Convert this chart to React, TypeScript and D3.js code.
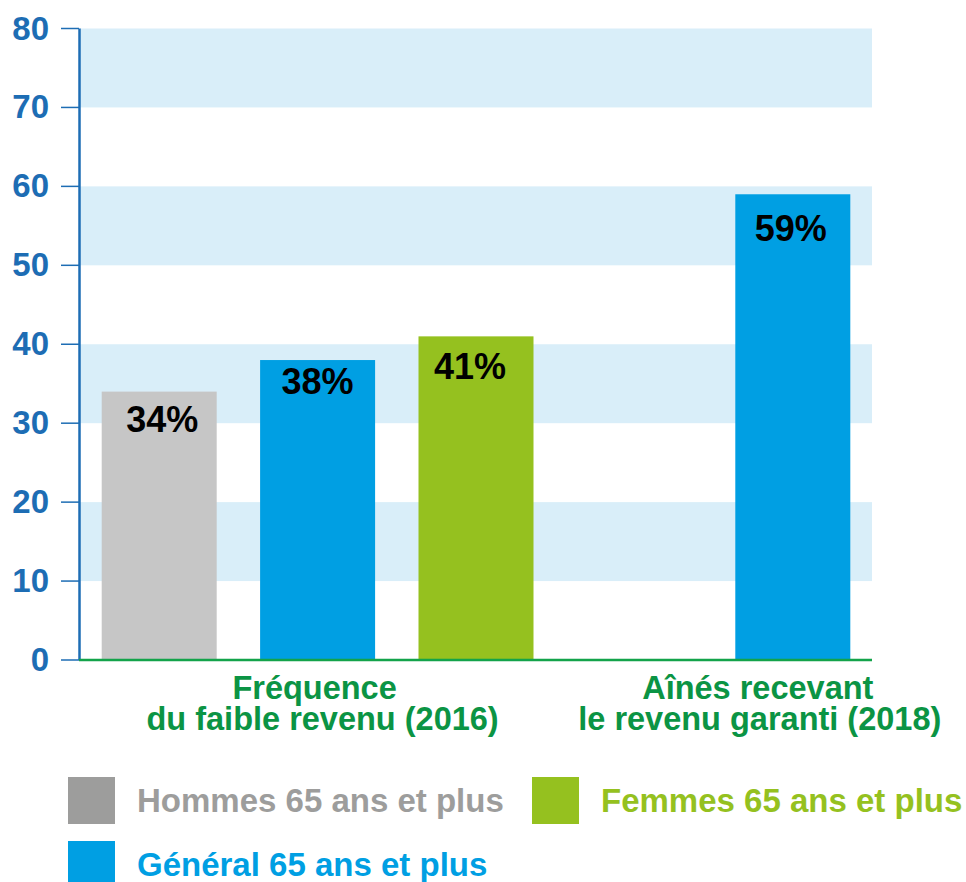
import * as d3 from "d3";

// data
const categories = [
  ["Fréquence", "du faible revenu (2016)"],
  ["Aînés recevant", "le revenu garanti (2018)"],
];
const seriesNames = ["Hommes 65 ans et plus", "Général 65 ans et plus", "Femmes 65 ans et plus"];
const seriesKeys = ["hommes", "general", "femmes"];
const hommesValues = [34, null];
const generalValues = [38, 59];
const femmesValues = [41, null];
// slots along the x axis (group 2 keeps an empty slot before its bar)
const slots = ["0-hommes", "0-general", "0-femmes", "1-vide", "1-general"];
const yTicks = [0, 10, 20, 30, 40, 50, 60, 70, 80];

const colors: Record<string, string> = {
  hommes: "#c6c6c6",
  general: "#009fe3",
  femmes: "#95c11f",
};
const legendSwatch: Record<string, string> = {
  hommes: "#9d9d9c",
  general: "#009fe3",
  femmes: "#95c11f",
};
const legendText: Record<string, string> = {
  hommes: "#9d9d9c",
  general: "#009fe3",
  femmes: "#95c11f",
};

const W = 966;
const H = 882;
const left = 80;
const right = 872;
const top = 28.5;
const bottom = 660;
const font = "'Liberation Sans', Arial, Helvetica, sans-serif";
const axisBlue = "#1d6db4";

// the value labels were hand placed in the original, small nudges
const labelNudge: Record<string, [number, number]> = {
  "0-hommes": [3, 40],
  "0-general": [0, 34],
  "0-femmes": [-6, 43],
  "1-general": [-2, 47],
};

export default function App() {
  const x = d3.scaleBand<string>().domain(slots).range([left, right]).paddingInner(0.274).paddingOuter(0.137);
  const y = d3.scaleLinear().domain([0, 80]).range([bottom, top]);

  const valuesByKey: Record<string, (number | null)[]> = {
    hommes: hommesValues,
    general: generalValues,
    femmes: femmesValues,
  };

  const bars: { key: string; slot: string; value: number }[] = [];
  categories.forEach((_, g) => {
    seriesKeys.forEach((k) => {
      const v = valuesByKey[k][g];
      if (v != null) bars.push({ key: k, slot: `${g}-${k}`, value: v });
    });
  });

  const bands = yTicks.filter((t) => t % 20 === 10);

  // label anchors per group
  const groupCenter = (g: number) => {
    const s = slots.filter((d) => d.startsWith(`${g}-`) && d !== `${g}-vide`);
    const x0 = x(s[0])!;
    const x1 = x(s[s.length - 1])! + x.bandwidth();
    return (x0 + x1) / 2;
  };
  const lineShift = [
    [-3, 5],
    [-35, -33],
  ];

  return (
    <svg width={W} height={H} style={{ position: "absolute", left: 0, top: 0, background: "#fff" }} fontFamily={font}>
      {bands.map((b) => (
        <rect key={b} x={left} y={y(b + 10)} width={right - left} height={y(b) - y(b + 10)} fill="#d9eef9" />
      ))}

      {bars.map((b) => {
        const [dx, dy] = labelNudge[b.slot] || [0, 40];
        return (
          <g key={b.slot}>
            <rect x={x(b.slot)} y={y(b.value)} width={x.bandwidth()} height={y(0) - y(b.value)} fill={colors[b.key]} />
            <text
              x={x(b.slot)! + x.bandwidth() / 2 + dx}
              y={y(b.value) + dy}
              textAnchor="middle"
              fontSize={36}
              fontWeight="bold"
              fill="#000"
            >
              {b.value}%
            </text>
          </g>
        );
      })}

      {/* y axis */}
      <line x1={79.5} x2={79.5} y1={top} y2={bottom} stroke={axisBlue} strokeWidth={2.5} />
      {yTicks.map((t) => (
        <g key={t}>
          <line x1={61} x2={79} y1={y(t)} y2={y(t)} stroke={axisBlue} strokeWidth={1.5} />
          <text x={49} y={y(t) + 11} textAnchor="end" fontSize={33} fontWeight="bold" fill={axisBlue}>
            {t}
          </text>
        </g>
      ))}

      {/* baseline */}
      <line x1={79} x2={right} y1={bottom} y2={bottom} stroke="#13a34a" strokeWidth={2.5} />

      {/* category labels */}
      {categories.map((lines, g) => {
        const cx = g === 1 ? x("1-general")! + x.bandwidth() / 2 : groupCenter(g);
        return (
          <text key={g} fontSize={32.5} fontWeight="bold" fill="#0b9444" textAnchor="middle">
            {lines.map((l, i) => (
              <tspan key={i} x={cx + lineShift[g][i]} y={699 + i * 30.5}>
                {l}
              </tspan>
            ))}
          </text>
        );
      })}

      {/* legend */}
      {[
        { k: "hommes", lx: 68, ly: 777 },
        { k: "femmes", lx: 532, ly: 777 },
        { k: "general", lx: 68, ly: 841 },
      ].map(({ k, lx, ly }) => (
        <g key={k}>
          <rect x={lx} y={ly} width={47} height={47} fill={legendSwatch[k]} />
          <text x={lx + 69} y={ly + 35} fontSize={33} fontWeight="bold" fill={legendText[k]}>
            {seriesNames[seriesKeys.indexOf(k)]}
          </text>
        </g>
      ))}
    </svg>
  );
}
